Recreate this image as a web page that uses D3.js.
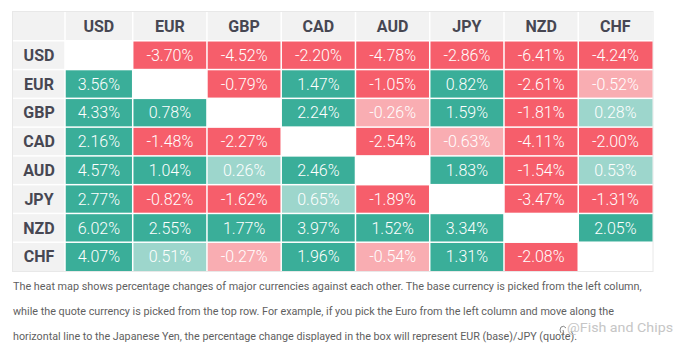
<!DOCTYPE html>
<html>
<head>
<meta charset="utf-8">
<script src="https://cdn.jsdelivr.net/npm/d3@7"></script>
<style>
  html, body { margin: 0; padding: 0; background: #ffffff; }
  svg { display: block; }
</style>
</head>
<body>
<svg id="chart" width="682" height="355"></svg>
<script>
// ---- data ----
const currencies = ["USD", "EUR", "GBP", "CAD", "AUD", "JPY", "NZD", "CHF"];
const rowUSD = [null, -3.70, -4.52, -2.20, -4.78, -2.86, -6.41, -4.24];
const rowEUR = [3.56, null, -0.79, 1.47, -1.05, 0.82, -2.61, -0.52];
const rowGBP = [4.33, 0.78, null, 2.24, -0.26, 1.59, -1.81, 0.28];
const rowCAD = [2.16, -1.48, -2.27, null, -2.54, -0.63, -4.11, -2.00];
const rowAUD = [4.57, 1.04, 0.26, 2.46, null, 1.83, -1.54, 0.53];
const rowJPY = [2.77, -0.82, -1.62, 0.65, -1.89, null, -3.47, -1.31];
const rowNZD = [6.02, 2.55, 1.77, 3.97, 1.52, 3.34, null, 2.05];
const rowCHF = [4.07, 0.51, -0.27, 1.96, -0.54, 1.31, -2.08, null];
const rows = [rowUSD, rowEUR, rowGBP, rowCAD, rowAUD, rowJPY, rowNZD, rowCHF];
const captionLines = [
  "The heat map shows percentage changes of major currencies against each other. The base currency is picked from the left column,",
  "while the quote currency is picked from the top row. For example, if you pick the Euro from the left column and move along the",
  "horizontal line to the Japanese Yen, the percentage change displayed in the box will represent EUR (base)/JPY (quote)."
];
const watermark = "@Fish and Chips";

// ---- layout ----
const svg = d3.select("#chart");
const gLeft = 13, gTop = 12, gRight = 652.5, gBottom = 271;
const labelW = 52;
// column edges: label column, narrower USD column, then equal columns
const xEdge = d3.scaleLinear().domain([-1, 0, 1, 8]).range([gLeft, gLeft + labelW, 132.7, gRight]);
const yEdge = d3.scaleLinear().domain([-1, 8]).range([gTop, gBottom]);
const gap = 0.75;

const colorScale = v => {
  const a = Math.abs(v);
  if (v >= 0) return a < 0.7 ? "#9dd6cc" : "#3aae99";
  return a < 0.7 ? "#f9adb2" : "#f65e6b";
};

// outer border
svg.append("rect")
  .attr("x", gLeft - 0.5).attr("y", gTop - 0.5)
  .attr("width", gRight - gLeft + 1).attr("height", gBottom - gTop + 1)
  .attr("fill", "#ffffff").attr("stroke", "#e8e8e8").attr("stroke-width", 1);

// header row cells (incl. corner)
const headerIdx = d3.range(-1, 8);
svg.append("g").selectAll("rect").data(headerIdx).join("rect")
  .attr("x", d => xEdge(d) + (d === -1 ? 0 : gap))
  .attr("y", gTop)
  .attr("width", d => xEdge(d + 1) - xEdge(d) - (d === -1 ? gap : 2 * gap) + (d === 7 ? gap : 0))
  .attr("height", yEdge(0) - gTop - gap)
  .attr("fill", "#f2f2f2");

// label column cells
svg.append("g").selectAll("rect").data(d3.range(0, 8)).join("rect")
  .attr("x", gLeft)
  .attr("y", d => yEdge(d) + gap)
  .attr("width", labelW - gap)
  .attr("height", d => yEdge(d + 1) - yEdge(d) - 2 * gap + (d === 7 ? gap : 0))
  .attr("fill", "#f2f2f2");

// header texts
svg.append("g").selectAll("text").data(currencies).join("text")
  .attr("x", (d, i) => (xEdge(i) + xEdge(i + 1)) / 2)
  .attr("y", (yEdge(-1) + yEdge(0)) / 2)
  .attr("dy", "0.36em")
  .attr("text-anchor", "middle")
  .attr("font-family", "Roboto, sans-serif")
  .attr("font-weight", 700)
  .attr("font-size", 16)
  .attr("fill", "#474752")
  .text(d => d);

svg.append("g").selectAll("text").data(currencies).join("text")
  .attr("x", (xEdge(-1) + xEdge(0)) / 2)
  .attr("y", (d, i) => (yEdge(i) + yEdge(i + 1)) / 2)
  .attr("dy", "0.36em")
  .attr("text-anchor", "middle")
  .attr("font-family", "Roboto, sans-serif")
  .attr("font-weight", 700)
  .attr("font-size", 16)
  .attr("fill", "#474752")
  .text(d => d);

// cells
const cells = [];
rows.forEach((r, i) => r.forEach((v, j) => cells.push({ i, j, v })));
const filled = cells.filter(c => c.v !== null);
const cellG = svg.append("g");
cellG.selectAll("rect").data(filled).join("rect")
  .attr("x", d => xEdge(d.j) + gap)
  .attr("y", d => yEdge(d.i) + gap)
  .attr("width", d => xEdge(d.j + 1) - xEdge(d.j) - 2 * gap + (d.j === 7 ? gap : 0))
  .attr("height", d => yEdge(d.i + 1) - yEdge(d.i) - 2 * gap + (d.i === 7 ? gap : 0))
  .attr("fill", d => colorScale(d.v));

cellG.selectAll("text").data(filled).join("text")
  .attr("x", d => (xEdge(d.j) + xEdge(d.j + 1)) / 2)
  .attr("y", d => (yEdge(d.i) + yEdge(d.i + 1)) / 2)
  .attr("dy", "0.36em")
  .attr("text-anchor", "middle")
  .attr("font-family", "Roboto, sans-serif")
  .attr("font-weight", 300)
  .attr("font-size", 16)
  .attr("fill", "#ffffff")
  .text(d => d.v.toFixed(2) + "%");

// caption
const capW = [628.7, 601, 564];
const capY = d3.scaleLinear().domain([0, 2]).range([290, 340]);
svg.append("g").selectAll("text").data(captionLines).join("text")
  .attr("x", gLeft)
  .attr("y", (d, i) => capY(i))
  .attr("font-family", "Roboto, sans-serif")
  .attr("font-size", 11)
  .attr("fill", "#5f5f5f")
  .attr("textLength", (d, i) => capW[i])
  .attr("lengthAdjust", "spacingAndGlyphs")
  .text(d => d);

// watermark
svg.append("text")
  .attr("x", 567).attr("y", 332)
  .attr("font-family", "Roboto, sans-serif")
  .attr("font-size", 13)
  .attr("fill", "#c6c6c6")
  .attr("textLength", 106)
  .attr("lengthAdjust", "spacingAndGlyphs")
  .text(watermark);
svg.append("path")
  .attr("d", "M561,333 q-2,-3 0,-6 q3,-2 5,1 M563,330 q2,3 -1,6")
  .attr("fill", "none").attr("stroke", "#888").attr("stroke-width", 1);
</script>
</body>
</html>
